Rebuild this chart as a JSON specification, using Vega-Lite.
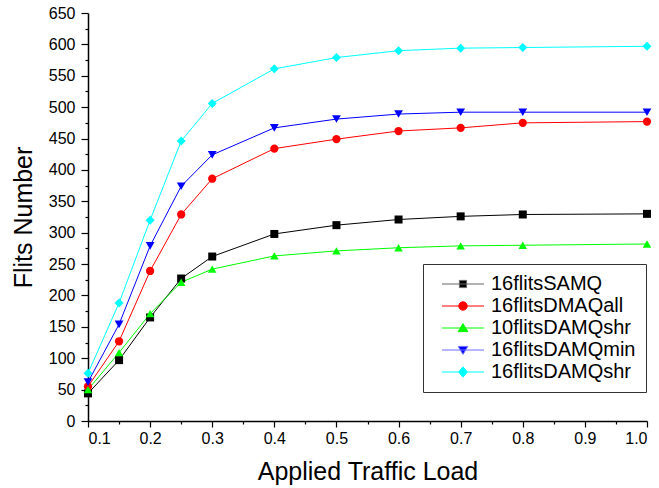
{
  "$schema": "https://vega.github.io/schema/vega-lite/v6.json",
  "width": 559,
  "height": 408,
  "autosize": "none",
  "padding": {"left": 88, "top": 13, "right": 12, "bottom": 67},
  "background": "white",
  "config": {
    "view": {"stroke": null},
    "font": "Liberation Sans",
    "axis": {"labelFont": "Liberation Sans", "titleFont": "Liberation Sans", "labelColor": "black", "titleColor": "black", "domainColor": "black", "tickColor": "black", "domainWidth": 1.5, "tickWidth": 1.2, "grid": false, "labelFontSize": 16, "titleFontSize": 25, "titleFontWeight": "normal"}
  },
  "data": {
    "values": [
      {"x": 0.1, "s": "16flitsSAMQ", "y": 44},
      {"x": 0.15, "s": "16flitsSAMQ", "y": 97},
      {"x": 0.2, "s": "16flitsSAMQ", "y": 165},
      {"x": 0.25, "s": "16flitsSAMQ", "y": 227},
      {"x": 0.3, "s": "16flitsSAMQ", "y": 262},
      {"x": 0.4, "s": "16flitsSAMQ", "y": 298},
      {"x": 0.5, "s": "16flitsSAMQ", "y": 312},
      {"x": 0.6, "s": "16flitsSAMQ", "y": 321},
      {"x": 0.7, "s": "16flitsSAMQ", "y": 326},
      {"x": 0.8, "s": "16flitsSAMQ", "y": 329},
      {"x": 1.0, "s": "16flitsSAMQ", "y": 330},
      {"x": 0.1, "s": "16flitsDMAQall", "y": 55},
      {"x": 0.15, "s": "16flitsDMAQall", "y": 127},
      {"x": 0.2, "s": "16flitsDMAQall", "y": 239},
      {"x": 0.25, "s": "16flitsDMAQall", "y": 329},
      {"x": 0.3, "s": "16flitsDMAQall", "y": 386},
      {"x": 0.4, "s": "16flitsDMAQall", "y": 434},
      {"x": 0.5, "s": "16flitsDMAQall", "y": 449},
      {"x": 0.6, "s": "16flitsDMAQall", "y": 462},
      {"x": 0.7, "s": "16flitsDMAQall", "y": 467},
      {"x": 0.8, "s": "16flitsDMAQall", "y": 475},
      {"x": 1.0, "s": "16flitsDMAQall", "y": 477},
      {"x": 0.1, "s": "10flitsDAMQshr", "y": 50},
      {"x": 0.15, "s": "10flitsDAMQshr", "y": 109},
      {"x": 0.2, "s": "10flitsDAMQshr", "y": 171},
      {"x": 0.25, "s": "10flitsDAMQshr", "y": 221},
      {"x": 0.3, "s": "10flitsDAMQshr", "y": 242},
      {"x": 0.4, "s": "10flitsDAMQshr", "y": 263},
      {"x": 0.5, "s": "10flitsDAMQshr", "y": 271},
      {"x": 0.6, "s": "10flitsDAMQshr", "y": 276},
      {"x": 0.7, "s": "10flitsDAMQshr", "y": 279},
      {"x": 0.8, "s": "10flitsDAMQshr", "y": 280},
      {"x": 1.0, "s": "10flitsDAMQshr", "y": 282},
      {"x": 0.1, "s": "16flitsDAMQmin", "y": 62},
      {"x": 0.15, "s": "16flitsDAMQmin", "y": 154},
      {"x": 0.2, "s": "16flitsDAMQmin", "y": 279},
      {"x": 0.25, "s": "16flitsDAMQmin", "y": 374},
      {"x": 0.3, "s": "16flitsDAMQmin", "y": 424},
      {"x": 0.4, "s": "16flitsDAMQmin", "y": 467},
      {"x": 0.5, "s": "16flitsDAMQmin", "y": 481},
      {"x": 0.6, "s": "16flitsDAMQmin", "y": 489},
      {"x": 0.7, "s": "16flitsDAMQmin", "y": 492},
      {"x": 0.8, "s": "16flitsDAMQmin", "y": 492},
      {"x": 1.0, "s": "16flitsDAMQmin", "y": 492},
      {"x": 0.1, "s": "16flitsDAMQshr", "y": 76},
      {"x": 0.15, "s": "16flitsDAMQshr", "y": 188},
      {"x": 0.2, "s": "16flitsDAMQshr", "y": 320},
      {"x": 0.25, "s": "16flitsDAMQshr", "y": 446},
      {"x": 0.3, "s": "16flitsDAMQshr", "y": 506},
      {"x": 0.4, "s": "16flitsDAMQshr", "y": 561},
      {"x": 0.5, "s": "16flitsDAMQshr", "y": 579},
      {"x": 0.6, "s": "16flitsDAMQshr", "y": 590},
      {"x": 0.7, "s": "16flitsDAMQshr", "y": 594},
      {"x": 0.8, "s": "16flitsDAMQshr", "y": 595},
      {"x": 1.0, "s": "16flitsDAMQshr", "y": 597}
    ]
  },
  "encoding": {
    "x": {"field": "x", "type": "quantitative", "scale": {"domain": [0.1, 1.0], "nice": false, "zero": false},
      "axis": {"title": "Applied Traffic Load", "titlePadding": 13, "values": [0.1,0.15,0.2,0.25,0.3,0.35,0.4,0.45,0.5,0.55,0.6,0.65,0.7,0.75,0.8,0.85,0.9,0.95,1.0],
        "labelExpr": "round(datum.value*100) % 10 === 0 ? format(datum.value, '.1f') : ''",
        "tickSize": {"condition": {"test": "round(datum.value*100) % 10 === 0", "value": 6}, "value": 3}, "labelPadding": 3}},
    "y": {"field": "y", "type": "quantitative", "scale": {"domain": [0, 650], "nice": false},
      "axis": {"title": "Flits Number", "titlePadding": 12, "values": [0,25,50,75,100,125,150,175,200,225,250,275,300,325,350,375,400,425,450,475,500,525,550,575,600,625,650],
        "labelExpr": "datum.value % 50 === 0 ? datum.label : ''",
        "tickSize": {"condition": {"test": "datum.value % 50 === 0", "value": 7}, "value": 3}, "labelPadding": 6}}
  },
  "layer": [
    {
      "mark": {"type": "line", "strokeWidth": 1},
      "encoding": {
        "color": {"field": "s", "type": "nominal", "scale": {"domain": ["16flitsSAMQ","16flitsDMAQall","10flitsDAMQshr","16flitsDAMQmin","16flitsDAMQshr"], "range": ["#000000","#ff0000","#00ff00","#0000ff","#00ffff"]}, "legend": null}
      }
    },
    {
      "mark": {"type": "point", "filled": true, "opacity": 1},
      "encoding": {
        "color": {"field": "s", "type": "nominal", "scale": {"domain": ["16flitsSAMQ","16flitsDMAQall","10flitsDAMQshr","16flitsDAMQmin","16flitsDAMQshr"], "range": ["#000000","#ff0000","#00ff00","#0000ff","#00ffff"]}, "legend": null},
        "shape": {"field": "s", "type": "nominal", "scale": {"domain": ["16flitsSAMQ","16flitsDMAQall","10flitsDAMQshr","16flitsDAMQmin","16flitsDAMQshr"], "range": ["square","circle","triangle-up","triangle-down","diamond"]}, "legend": null},
        "size": {"field": "s", "type": "nominal", "scale": {"domain": ["16flitsSAMQ","16flitsDMAQall","10flitsDAMQshr","16flitsDAMQmin","16flitsDAMQshr"], "range": [64, 81, 110, 110, 121]}, "legend": null}
      }
    },
    {
      "transform": [{"filter": "datum.x > 5"}],
      "mark": {"type": "point", "filled": true, "opacity": 1, "strokeWidth": 1},
      "encoding": {
        "color": {"field": "s", "type": "nominal", "title": null, "scale": {"domain": ["16flitsSAMQ","16flitsDMAQall","10flitsDAMQshr","16flitsDAMQmin","16flitsDAMQshr"], "range": ["#000000","#ff0000","#00ff00","#0000ff","#00ffff"]},
          "legend": {"orient": "none", "legendX": 335, "legendY": 251, "title": null, "strokeColor": "#333", "fillColor": "white", "padding": 10, "labelFontSize": 20, "labelFont": "Liberation Sans", "labelColor": "black", "symbolSize": 64, "labelOffset": 18, "rowPadding": 2, "symbolStrokeWidth": 1, "symbolOffset": 20}},
        "stroke": {"field": "s", "type": "nominal", "title": null, "scale": {"domain": ["16flitsSAMQ","16flitsDMAQall","10flitsDAMQshr","16flitsDAMQmin","16flitsDAMQshr"], "range": ["#666666","#ff0000","#00ff00","#6f6fff","#00ffff"]}},
        "shape": {"field": "s", "type": "nominal", "title": null, "scale": {"domain": ["16flitsSAMQ","16flitsDMAQall","10flitsDAMQshr","16flitsDAMQmin","16flitsDAMQshr"], "range": [
          "M-5.25,0H5.25M-0.9,-0.9H0.9V0.9H-0.9Z",
          "M-5.25,0H5.25M-1.05,0A1.05,1.05 0 1,0 1.05,0A1.05,1.05 0 1,0 -1.05,0Z",
          "M-5.25,0H5.25M0,-1.1L1.2,0.9L-1.2,0.9Z",
          "M-5.25,0H5.25M0,1.1L1.2,-0.9L-1.2,-0.9Z",
          "M-5.25,0H5.25M0,-1.3L1.1,0L0,1.3L-1.1,0Z"]}}
      }
    }
  ],
  "resolve": {"scale": {"color": "independent", "shape": "independent", "size": "independent", "stroke": "independent"}}
}
